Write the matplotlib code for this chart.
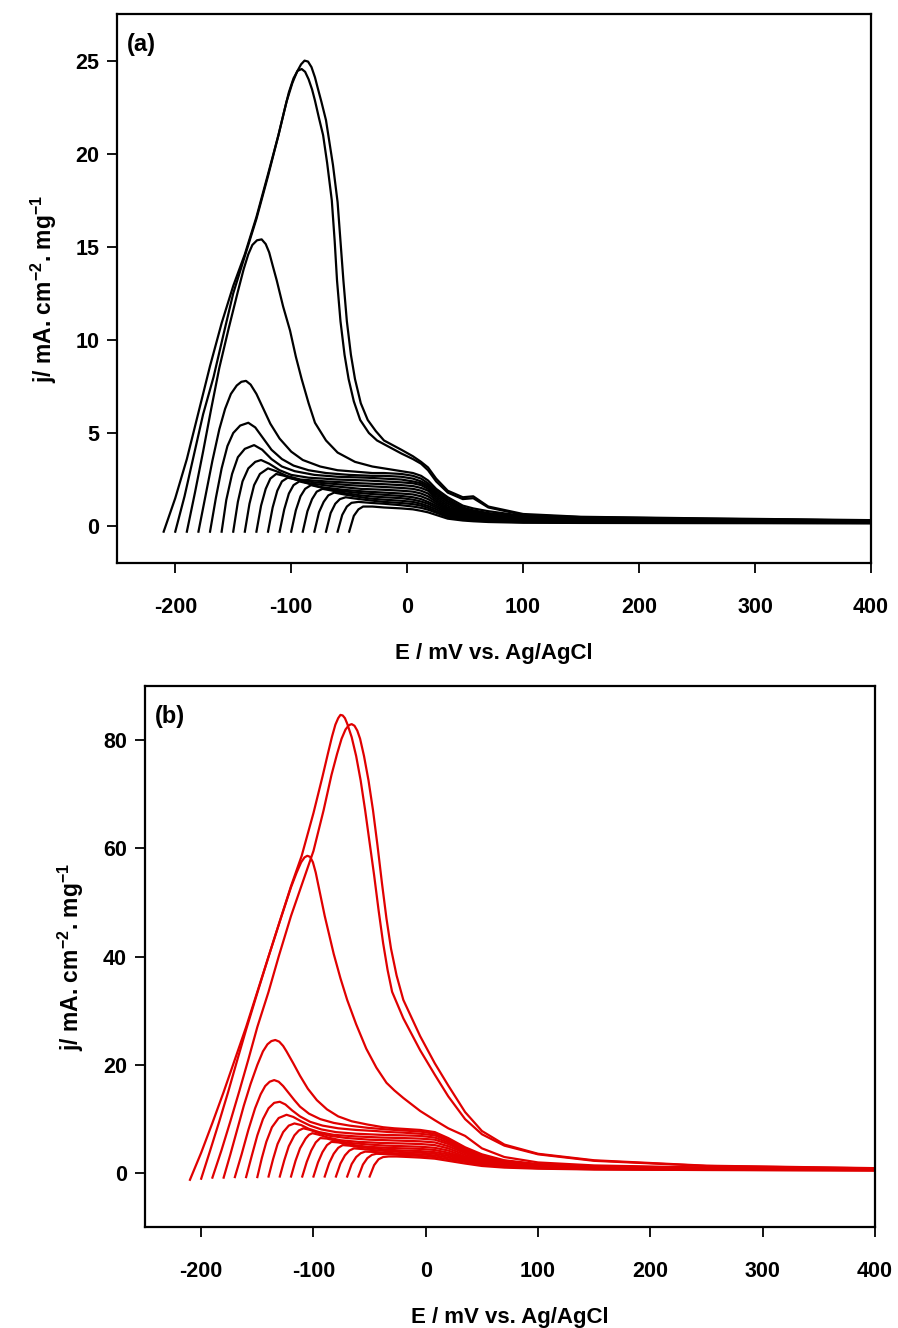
import numpy as np
import matplotlib
matplotlib.use("Agg")
import matplotlib.pyplot as plt

plt.rcParams['font.family'] = ['Liberation Sans', 'DejaVu Sans']
plt.rcParams['font.weight'] = 'bold'
plt.rcParams['axes.unicode_minus'] = False
plt.rcParams['mathtext.fontset'] = 'custom'
plt.rcParams['mathtext.rm'] = 'Liberation Sans:bold'
plt.rcParams['mathtext.it'] = 'Liberation Sans:bold'
plt.rcParams['mathtext.bf'] = 'Liberation Sans:bold'

# ---- panel (a): start of each scan (mV) and the rising part / peak of each curve
a_start = [-210, -200, -190, -180, -170, -160, -150, -140, -130, -120,
           -110, -100, -90, -80, -70, -60, -50]
a_head = [
    [(-210, -0.3), (-200, 1.5), (-190, 3.6), (-180, 6.1), (-170, 8.6), (-160, 10.9), (-150, 12.9),
     (-140, 14.6), (-130, 16.6), (-120, 18.9), (-111, 21.0), (-106, 22.3), (-102, 23.3), (-98, 24.05),
     (-94.5, 24.45), (-91, 24.55), (-88, 24.4), (-85, 24.0), (-82, 23.45), (-79.5, 22.85), (-76, 21.9),
     (-72.5, 21.0), (-69, 19.5), (-65, 17.5), (-62.5, 15.3), (-60.5, 13.2), (-57.5, 11.0), (-54, 9.2),
     (-50.5, 7.9), (-46, 6.7), (-40.5, 5.7), (-33, 5.0), (-26, 4.6)],
    [(-200, -0.3), (-192, 1.6), (-184, 3.8), (-176, 6.0), (-167, 8.0), (-158, 10.4), (-150, 12.5),
     (-140, 14.5), (-130, 16.5), (-120, 18.8), (-111, 21.0), (-104, 22.8), (-99, 23.8), (-95, 24.4),
     (-91.5, 24.8), (-88.5, 25.0), (-85.5, 24.95), (-82.5, 24.65), (-79.5, 24.1), (-77, 23.5),
     (-74, 22.8), (-70, 21.8), (-67, 20.6), (-64, 19.4), (-60, 17.4), (-57.5, 15.3), (-55, 13.2),
     (-52, 11.0), (-48.5, 9.2), (-45, 7.9), (-40, 6.6), (-34, 5.7), (-27, 5.1)],
    [(-190, -0.3), (-183, 1.8), (-176, 4.0), (-169, 6.3), (-162, 8.5), (-154, 10.6), (-146, 12.6),
     (-141, 13.8), (-137, 14.6), (-133.5, 15.1), (-129.5, 15.35), (-125.5, 15.4), (-122, 15.15),
     (-119, 14.7), (-116, 14.0), (-112.5, 13.2), (-107, 11.8), (-101, 10.5), (-96, 9.1), (-91, 7.9),
     (-85, 6.6), (-79.5, 5.55), (-70, 4.6), (-60, 3.95), (-45, 3.45), (-30, 3.2)],
    [(-180, -0.3), (-174, 1.6), (-168, 3.5), (-162, 5.2), (-157, 6.3), (-152, 7.1), (-147, 7.55),
     (-143, 7.75), (-139, 7.8), (-135, 7.6), (-130, 7.1), (-124, 6.3), (-118, 5.5), (-110, 4.7),
     (-100, 4.0), (-90, 3.55), (-75, 3.2), (-60, 3.0), (-40, 2.9), (-30, 2.85)],
    [(-170, -0.3), (-165, 1.5), (-160, 3.1), (-155, 4.3), (-150, 5.0), (-144, 5.4), (-137, 5.55),
     (-131, 5.3), (-124, 4.7), (-117, 4.1), (-108, 3.6), (-98, 3.25), (-85, 3.0), (-70, 2.85),
     (-50, 2.75), (-30, 2.7)],
    [(-160, -0.3), (-156, 1.4), (-151, 2.8), (-146, 3.7), (-140, 4.15), (-132, 4.35), (-125, 4.1),
     (-117, 3.6), (-108, 3.2), (-97, 2.95), (-80, 2.75), (-60, 2.65), (-35, 2.6)],
    [(-150, -0.3), (-146, 1.3), (-142, 2.4), (-137, 3.1), (-131, 3.45), (-126, 3.55), (-119, 3.35),
     (-110, 3.0), (-100, 2.75), (-85, 2.6), (-60, 2.5), (-35, 2.45)],
    [(-140, -0.3), (-136, 1.2), (-132, 2.2), (-127, 2.8), (-120, 3.1), (-113, 2.95), (-104, 2.7),
     (-92, 2.5), (-70, 2.4), (-40, 2.3)],
    [(-130, -0.3), (-126, 1.1), (-122, 2.0), (-118, 2.55), (-113, 2.8), (-106, 2.7), (-96, 2.5),
     (-80, 2.35), (-50, 2.2), (-35, 2.15)],
    [(-120, -0.3), (-116, 1.0), (-112, 1.9), (-108, 2.4), (-103, 2.6), (-96, 2.5), (-85, 2.3),
     (-65, 2.15), (-40, 2.0)],
    [(-110, -0.3), (-106, 0.9), (-102, 1.75), (-98, 2.2), (-93, 2.4), (-86, 2.3), (-75, 2.1),
     (-55, 1.95), (-35, 1.85)],
    [(-100, -0.3), (-96, 0.85), (-92, 1.6), (-88, 2.0), (-83, 2.2), (-76, 2.1), (-65, 1.95),
     (-45, 1.8), (-30, 1.72)],
    [(-90, -0.3), (-86, 0.8), (-82, 1.45), (-78, 1.85), (-73, 2.0), (-66, 1.92), (-55, 1.78),
     (-40, 1.65), (-28, 1.58)],
    [(-80, -0.3), (-76, 0.75), (-72, 1.3), (-68, 1.65), (-63, 1.8), (-56, 1.72), (-45, 1.6),
     (-32, 1.48)],
    [(-70, -0.3), (-66, 0.7), (-62, 1.2), (-58, 1.45), (-53, 1.55), (-45, 1.48), (-32, 1.38)],
    [(-60, -0.3), (-56, 0.6), (-52, 1.05), (-48, 1.25), (-42, 1.3), (-32, 1.25)],
    [(-50, -0.3), (-46, 0.55), (-42, 0.9), (-38, 1.05), (-30, 1.05)],
]
# common potentials for the decaying part of panel (a)
a_tail_E = [-20, -5, 5, 12, 18, 25, 35, 48, 57, 70, 100, 150, 250, 400]
a_tail_j = [
    [4.4, 3.9, 3.6, 3.35, 3.0, 2.4, 1.8, 1.45, 1.5, 1.0, 0.6, 0.48, 0.4, 0.3],
    [4.6, 4.1, 3.75, 3.45, 3.15, 2.55, 1.9, 1.55, 1.6, 1.05, 0.65, 0.5, 0.42, 0.32],
    [3.1, 2.95, 2.85, 2.7, 2.45, 2.0, 1.55, 1.1, 0.95, 0.8, 0.55, 0.45, 0.38, 0.3],
    [2.85, 2.8, 2.7, 2.55, 2.3, 1.9, 1.45, 1.0, 0.85, 0.7, 0.5, 0.42, 0.35, 0.28],
    [2.7, 2.65, 2.55, 2.4, 2.2, 1.8, 1.35, 0.95, 0.8, 0.65, 0.48, 0.4, 0.34, 0.27],
    [2.55, 2.5, 2.4, 2.3, 2.1, 1.7, 1.3, 0.9, 0.75, 0.6, 0.45, 0.38, 0.32, 0.26],
    [2.4, 2.35, 2.3, 2.2, 2.0, 1.6, 1.2, 0.85, 0.7, 0.55, 0.42, 0.36, 0.3, 0.25],
    [2.25, 2.2, 2.15, 2.05, 1.9, 1.5, 1.1, 0.78, 0.65, 0.52, 0.4, 0.34, 0.29, 0.24],
    [2.1, 2.05, 2.0, 1.9, 1.75, 1.4, 1.0, 0.72, 0.6, 0.48, 0.37, 0.32, 0.28, 0.23],
    [1.95, 1.9, 1.85, 1.75, 1.6, 1.3, 0.92, 0.65, 0.55, 0.45, 0.35, 0.3, 0.26, 0.22],
    [1.8, 1.75, 1.7, 1.6, 1.45, 1.2, 0.85, 0.6, 0.5, 0.42, 0.32, 0.28, 0.25, 0.21],
    [1.68, 1.62, 1.55, 1.45, 1.3, 1.1, 0.78, 0.55, 0.46, 0.38, 0.3, 0.26, 0.23, 0.2],
    [1.55, 1.5, 1.42, 1.32, 1.2, 1.0, 0.7, 0.5, 0.42, 0.35, 0.28, 0.24, 0.22, 0.19],
    [1.42, 1.36, 1.3, 1.2, 1.08, 0.9, 0.62, 0.45, 0.38, 0.32, 0.25, 0.22, 0.2, 0.18],
    [1.3, 1.24, 1.18, 1.1, 0.98, 0.8, 0.55, 0.4, 0.34, 0.29, 0.23, 0.2, 0.19, 0.17],
    [1.2, 1.12, 1.05, 0.98, 0.88, 0.72, 0.48, 0.35, 0.3, 0.26, 0.21, 0.19, 0.18, 0.16],
    [1.0, 0.95, 0.9, 0.82, 0.74, 0.6, 0.4, 0.3, 0.26, 0.22, 0.18, 0.17, 0.16, 0.15],
]

# ---- panel (b)
b_start = [-210, -200, -190, -180, -170, -160, -150, -140, -130, -120,
           -110, -100, -90, -80, -70, -60, -50]
b_head = [
    [(-210, -1.2), (-200, 3.8), (-190, 9.3), (-180, 15.0), (-170, 21.0), (-160, 27.0), (-150, 33.5),
     (-140, 40.0), (-130, 46.5), (-120, 53.0), (-110.5, 58.6), (-100, 66.5), (-92, 73.2), (-87, 77.6),
     (-83.5, 80.6), (-80.5, 82.8), (-78, 84.0), (-76, 84.6), (-74, 84.5), (-72, 84.0), (-70, 83.0),
     (-66, 80.5), (-62, 77.0), (-58, 72.5), (-54, 67.0), (-50, 61.0), (-46, 55.0), (-42, 48.5),
     (-38, 42.5), (-34, 37.5), (-30, 33.5)],
    [(-200, -1.0), (-192, 4.2), (-184, 9.5), (-176, 15.0), (-168, 20.8), (-160, 26.5), (-150, 33.3),
     (-140, 40.0), (-130, 46.5), (-120, 52.8), (-115, 55.5), (-111, 57.4), (-108, 58.3), (-105.5, 58.6),
     (-103, 58.4), (-100.5, 57.4), (-98, 55.5), (-94, 51.5), (-90, 47.5), (-86, 44.0), (-82, 40.5),
     (-76, 36.0), (-70, 32.0), (-62, 27.5), (-53, 23.0), (-44, 19.5), (-35, 16.7), (-28, 15.3)],
    [(-190, -0.8), (-182, 4.2), (-174, 9.6), (-166, 15.2), (-158, 21.0), (-150, 27.0), (-140, 33.5),
     (-131, 40.0), (-120, 47.5), (-110, 53.5), (-100, 59.5), (-91, 67.0), (-84, 73.5), (-79, 77.4),
     (-75, 80.2), (-71.5, 81.9), (-68.5, 82.7), (-66, 82.9), (-63.5, 82.6), (-61, 81.7), (-58.5, 80.2),
     (-55, 77.0), (-51, 72.5), (-47, 67.0), (-43, 60.5), (-39, 53.5), (-35, 47.0), (-31, 41.5),
     (-26, 36.5)],
    [(-180, -0.8), (-174, 3.5), (-168, 8.0), (-162, 12.5), (-156, 16.5), (-150, 20.0), (-145, 22.5),
     (-141, 23.8), (-137.5, 24.4), (-134, 24.6), (-130.5, 24.3), (-127, 23.5), (-124, 22.5),
     (-118, 20.3), (-112, 18.0), (-105, 15.6), (-97, 13.5), (-88, 11.8), (-78, 10.5), (-66, 9.6),
     (-52, 9.0), (-38, 8.5), (-28, 8.3)],
    [(-170, -0.7), (-164, 3.5), (-158, 8.0), (-152, 12.0), (-147, 14.6), (-143, 16.1), (-139, 16.9),
     (-135, 17.2), (-131, 16.9), (-127, 16.1), (-122, 14.8), (-117, 13.5), (-112, 12.3), (-104, 11.0),
     (-94, 10.0), (-82, 9.3), (-68, 8.8), (-52, 8.4), (-35, 8.1)],
    [(-160, -0.7), (-155, 3.2), (-150, 7.0), (-145, 10.0), (-140, 12.0), (-135, 13.0), (-130, 13.2),
     (-125, 12.7), (-119, 11.6), (-112, 10.5), (-103, 9.5), (-92, 8.8), (-78, 8.3), (-62, 8.0),
     (-45, 7.8), (-32, 7.6)],
    [(-150, -0.7), (-146, 2.8), (-142, 5.8), (-137, 8.5), (-131, 10.2), (-124, 10.8), (-118, 10.4),
     (-111, 9.6), (-103, 8.8), (-93, 8.1), (-80, 7.6), (-62, 7.3), (-40, 7.1)],
    [(-140, -0.6), (-136, 2.6), (-132, 5.4), (-127, 7.6), (-122, 8.8), (-117, 9.2), (-111, 8.9),
     (-104, 8.2), (-95, 7.6), (-82, 7.1), (-62, 6.8), (-40, 6.6)],
    [(-130, -0.6), (-126, 2.4), (-122, 5.0), (-117, 7.0), (-113, 7.9), (-109, 8.3), (-103, 8.0),
     (-95, 7.4), (-85, 6.9), (-70, 6.5), (-50, 6.2), (-35, 6.1)],
    [(-120, -0.6), (-116, 2.3), (-112, 4.6), (-107, 6.4), (-104, 7.1), (-101, 7.4), (-95, 7.1),
     (-87, 6.6), (-76, 6.1), (-60, 5.8), (-40, 5.6)],
    [(-110, -0.6), (-106, 2.1), (-102, 4.2), (-98, 5.7), (-94, 6.5), (-88, 6.4), (-80, 6.0),
     (-68, 5.6), (-50, 5.3), (-35, 5.1)],
    [(-100, -0.6), (-96, 2.0), (-92, 3.9), (-88, 5.2), (-84, 5.8), (-78, 5.7), (-68, 5.3),
     (-52, 4.9), (-35, 4.7)],
    [(-90, -0.6), (-86, 1.9), (-82, 3.6), (-78, 4.7), (-74, 5.2), (-68, 5.1), (-58, 4.8),
     (-42, 4.5), (-30, 4.3)],
    [(-80, -0.6), (-76, 1.8), (-72, 3.3), (-68, 4.2), (-64, 4.6), (-58, 4.5), (-48, 4.3), (-34, 4.1)],
    [(-70, -0.6), (-66, 1.7), (-62, 3.0), (-58, 3.7), (-54, 4.0), (-47, 3.95), (-36, 3.8)],
    [(-60, -0.6), (-56, 1.6), (-52, 2.8), (-48, 3.4), (-44, 3.6), (-36, 3.55), (-28, 3.45)],
    [(-50, -0.6), (-46, 1.5), (-42, 2.6), (-38, 3.0), (-33, 3.1), (-26, 3.1)],
]
b_tail_E = [-20, -5, 8, 20, 35, 50, 70, 100, 150, 250, 400]
b_tail_j = [
    [28.6, 22.7, 18.2, 14.2, 10.0, 7.2, 5.1, 3.5, 2.3, 1.35, 0.9],
    [13.9, 11.5, 9.8, 8.3, 6.9, 4.6, 3.0, 2.0, 1.45, 1.05, 0.8],
    [32.0, 25.3, 20.3, 16.2, 11.3, 7.8, 5.3, 3.6, 2.4, 1.4, 0.95],
    [8.2, 8.0, 7.6, 6.5, 4.8, 3.5, 2.4, 1.7, 1.3, 1.0, 0.85],
    [7.9, 7.7, 7.3, 6.2, 4.5, 3.3, 2.3, 1.6, 1.25, 1.0, 0.8],
    [7.5, 7.3, 7.0, 6.0, 4.3, 3.1, 2.2, 1.55, 1.2, 0.95, 0.8],
    [7.0, 6.9, 6.6, 5.7, 4.1, 3.0, 2.1, 1.5, 1.15, 0.95, 0.8],
    [6.5, 6.4, 6.2, 5.4, 3.9, 2.8, 2.0, 1.45, 1.1, 0.9, 0.75],
    [6.0, 5.9, 5.7, 5.0, 3.7, 2.7, 1.9, 1.4, 1.1, 0.9, 0.75],
    [5.5, 5.4, 5.2, 4.6, 3.4, 2.5, 1.8, 1.35, 1.05, 0.85, 0.7],
    [5.0, 4.9, 4.7, 4.2, 3.1, 2.3, 1.7, 1.3, 1.0, 0.85, 0.7],
    [4.6, 4.5, 4.3, 3.8, 2.9, 2.1, 1.6, 1.2, 0.95, 0.8, 0.65],
    [4.2, 4.1, 3.9, 3.5, 2.7, 2.0, 1.5, 1.15, 0.9, 0.75, 0.65],
    [3.9, 3.8, 3.6, 3.2, 2.5, 1.85, 1.4, 1.1, 0.85, 0.7, 0.6],
    [3.6, 3.5, 3.3, 2.9, 2.3, 1.7, 1.3, 1.0, 0.8, 0.7, 0.6],
    [3.35, 3.2, 3.0, 2.6, 2.1, 1.55, 1.2, 0.95, 0.75, 0.65, 0.55],
    [3.05, 2.9, 2.7, 2.3, 1.8, 1.35, 1.05, 0.85, 0.7, 0.6, 0.5],
]

x_ticks = [-200, -100, 0, 100, 200, 300, 400]
ylabel = r'j/ mA. cm$^{-2}$. mg$^{-1}$'
xlabel = 'E / mV vs. Ag/AgCl'


def draw_panel(ax, heads, tail_E, tail_j, color, ylim, yticks, tag):
    for head, tj in zip(heads, tail_j):
        E = [p[0] for p in head] + list(tail_E)
        j = [p[1] for p in head] + list(tj)
        ax.plot(E, j, color=color, lw=1.6, solid_joinstyle='round')
    ax.set_xlim(-250, 400)
    ax.set_ylim(*ylim)
    ax.set_xticks(x_ticks)
    ax.set_yticks(yticks)
    ax.tick_params(direction='out', length=7, width=1.3, labelsize=15.5, pad=17)
    ax.tick_params(axis='y', pad=6)
    for s in ax.spines.values():
        s.set_linewidth(1.6)
    ax.set_xlabel(xlabel, fontsize=16, fontweight='bold', labelpad=18)
    ax.set_ylabel(ylabel, fontsize=16.5, fontweight='bold', labelpad=12)
    ax.text(0.013, 0.965, tag, transform=ax.transAxes, ha='left', va='top',
            fontsize=17, fontweight='bold')


fig = plt.figure(figsize=(8.98, 13.28), dpi=100)
ax1 = fig.add_axes([0.1306, 0.5758, 0.8393, 0.4136])
ax2 = fig.add_axes([0.1615, 0.0757, 0.8129, 0.4080])

draw_panel(ax1, a_head, a_tail_E, a_tail_j, 'black', (-2, 27.5), [0, 5, 10, 15, 20, 25], '(a)')
draw_panel(ax2, b_head, b_tail_E, b_tail_j, '#e00000', (-10, 90), [0, 20, 40, 60, 80], '(b)')

fig.savefig('out.png', dpi=100)
